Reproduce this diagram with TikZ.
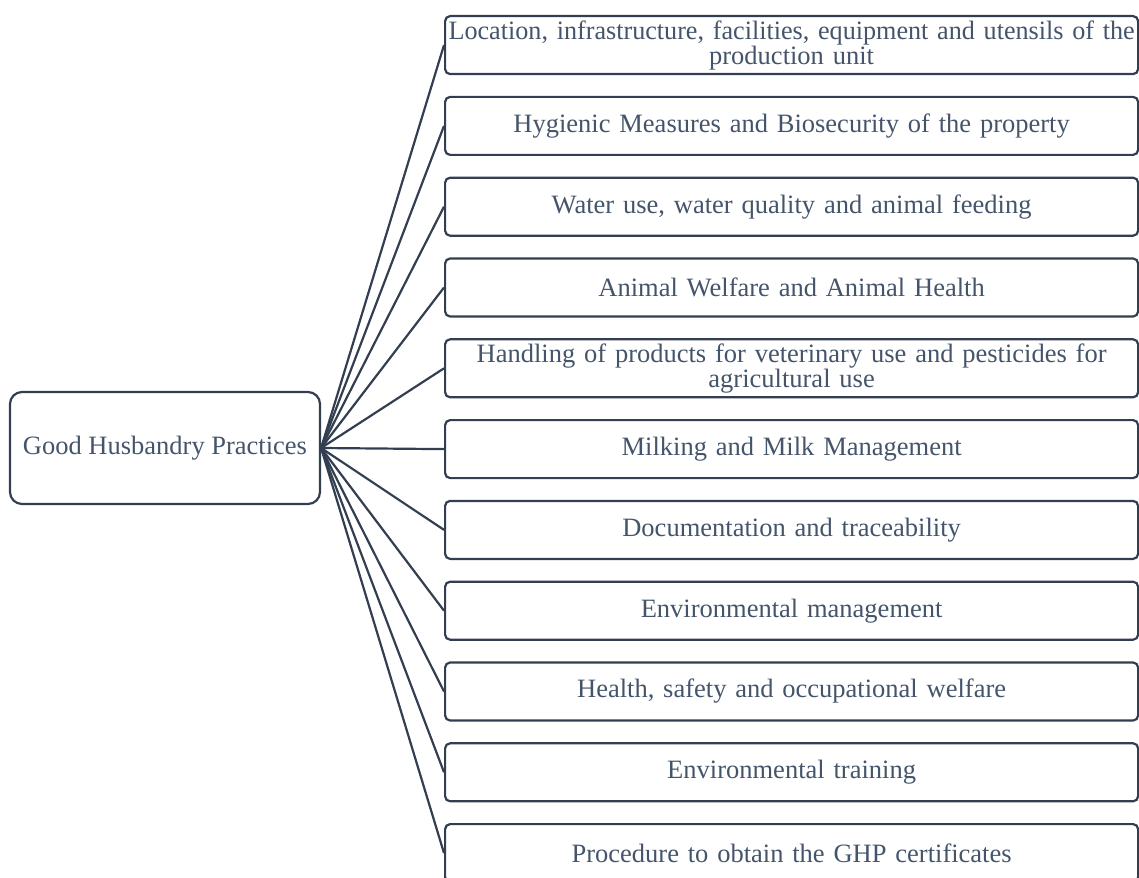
\documentclass[tikz,border=0pt]{standalone}
\usepackage{fontspec}
\usepackage{graphicx}
\setmainfont{Liberation Serif}
\definecolor{txt}{HTML}{44546A}
\definecolor{ln}{HTML}{333F50}
\begin{document}
\begin{tikzpicture}[x=1pt,y=-1pt,
  item/.style={draw=ln, line width=2.2pt, rounded corners=5pt, minimum width=693pt, minimum height=58pt,
    text width=688pt, align=center, inner sep=0pt, text=txt, font=\fontsize{26.5}{23}\selectfont, anchor=north west},
  hub/.style={draw=ln, line width=2.2pt, rounded corners=12pt, minimum width=310pt, minimum height=112pt,
    inner sep=0pt, text=txt, font=\fontsize{26.5}{23}\selectfont},
  conn/.style={draw=ln, line width=2.2pt}]
\useasboundingbox (0,0) rectangle (1139,877);
\begin{scope}
\clip (0,0) rectangle (1139,877);
\node[hub] (c) at (165,448) {Good Husbandry Practices};
\node[item] (b1) at (444,15.0) {\resizebox{686pt}{\height}{Location, infrastructure, facilities, equipment and utensils of the}\\production unit};
\node[item] (b2) at (444,95.8) {Hygienic Measures and Biosecurity of the property};
\node[item] (b3) at (444,176.6) {Water use, water quality and animal feeding};
\node[item] (b4) at (444,257.4) {Animal Welfare and Animal Health};
\node[item] (b5) at (444,338.2) {Handling of products for veterinary use and pesticides for\\agricultural use};
\node[item] (b6) at (444,419.0) {Milking and Milk Management};
\node[item] (b7) at (444,499.8) {Documentation and traceability};
\node[item] (b8) at (444,580.6) {Environmental management};
\node[item] (b9) at (444,661.4) {Health, safety and occupational welfare};
\node[item] (b10) at (444,742.2) {Environmental training};
\node[item] (b11) at (444,823.0) {Procedure to obtain the GHP certificates};
\foreach \i in {1,...,11} {\draw[conn] (c.east) -- (b\i.west);}
\end{scope}
\end{tikzpicture}
\end{document}
